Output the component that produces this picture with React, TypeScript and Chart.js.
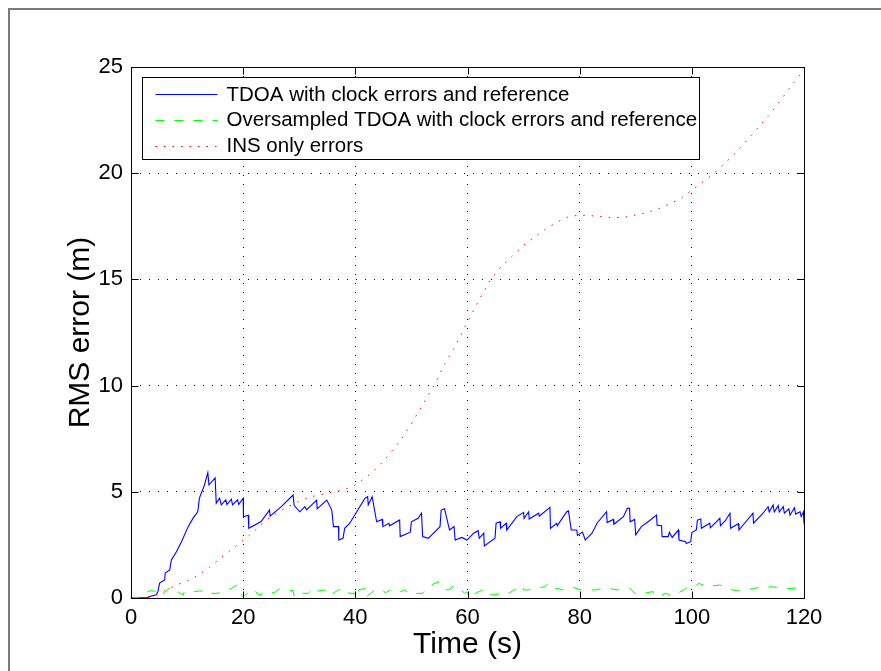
import React, { useEffect, useRef } from 'react';
import { Chart, registerables } from 'chart.js';

Chart.register(...registerables);

const xTicks = [0, 20, 40, 60, 80, 100, 120];
const yTicks = [0, 5, 10, 15, 20, 25];
const xTitle = 'Time (s)';
const yTitle = 'RMS error (m)';
const seriesLabels = [
  'TDOA with clock errors and reference',
  'Oversampled TDOA with clock errors and reference',
  'INS only errors',
];

// TDOA with clock errors and reference (blue, solid)
const blueT = [
  0, 3.0, 3.5, 4.5, 4.8, 5.1, 6.0, 6.1, 6.9, 7.2, 8.1, 9.0, 10.2, 11.1, 11.9, 12.2, 13.1, 13.7, 13.9, 15.0,
  15.2, 15.8, 16.1, 16.9, 17.1, 17.9, 18.1, 19.0, 19.2, 20.0, 20.05, 20.9, 21.0, 23.2, 24.7, 24.8, 26.8, 28.9, 29.1, 30.1,
  31.0, 31.3, 32.5, 33.1, 33.2, 34.9, 35.8, 36.1, 37.0, 37.05, 37.8, 38.1, 39.0, 41.7, 42.2, 42.3, 43.0, 43.8, 43.9, 44.8,
  44.9, 46.0, 46.1, 47.9, 48.0, 49.8, 50.0, 51.2, 51.8, 52.0, 53.0, 55.1, 55.3, 55.9, 56.8, 57.6, 57.8, 59.0, 59.9, 61.1,
  61.9, 62.1, 62.9, 63.0, 64.9, 65.1, 65.8, 65.9, 66.9, 67.0, 68.8, 70.0, 70.1, 70.9, 71.0, 72.7, 72.8, 74.7, 74.8, 75.9,
  76.0, 77.7, 78.0, 78.5, 79.5, 79.6, 80.5, 81.0, 82.2, 83.1, 84.8, 84.9, 86.0, 86.1, 87.8, 88.5, 88.9, 89.0, 89.8, 90.0,
  91.0, 92.2, 93.7, 93.8, 94.6, 94.7, 95.8, 96.0, 96.5, 97.6, 97.7, 98.9, 99.0, 99.8, 100.0, 100.8, 101.0, 101.6, 101.7, 103.2,
  103.3, 105.0, 105.1, 106.0, 106.8, 106.9, 108.3, 108.4, 110.9, 111.0, 112.7, 113.6, 113.8, 114.5, 114.7, 115.4, 115.6, 116.3, 116.5, 117.3,
  117.5, 118.3, 118.5, 119.3, 119.5, 119.9, 120.0,
];
const blueV = [
  0, 0.02, 0.08, 0.15, 0.3, 0.7, 0.85, 1.18, 1.32, 1.79, 2.18, 2.65, 3.36, 3.77, 4.06, 4.7, 5.32, 5.9, 5.32, 5.65,
  4.46, 4.7, 4.38, 4.62, 4.4, 4.65, 4.38, 4.62, 4.4, 4.7, 3.83, 3.9, 3.28, 3.6, 4.14, 3.85, 4.3, 4.85, 4.35, 4.06,
  4.3, 4.15, 4.46, 4.61, 4.2, 4.61, 4.14, 3.36, 3.36, 2.73, 2.81, 3.28, 3.52, 4.69, 4.77, 4.38, 4.77, 3.59, 3.6, 3.7,
  3.36, 3.52, 3.4, 3.67, 2.89, 3.1, 3.59, 3.75, 3.99, 2.89, 2.81, 3.36, 4.14, 4.2, 3.2, 3.36, 2.73, 2.85, 2.73, 3.05,
  3.17, 2.81, 3.05, 2.45, 2.81, 3.52, 3.59, 3.28, 3.52, 3.2, 3.83, 4.03, 3.75, 4.06, 3.72, 3.99, 3.85, 4.27, 3.28, 3.52,
  3.4, 4.06, 4.1, 3.2, 3.2, 2.95, 3.1, 2.73, 3.05, 3.52, 4.06, 3.55, 3.7, 3.47, 3.83, 4.22, 4.22, 3.59, 3.7, 2.97,
  3.36, 3.59, 3.9, 3.43, 3.4, 2.89, 2.89, 3.1, 2.85, 3.2, 2.73, 2.65, 2.57, 2.65, 3.08, 3.2, 3.67, 3.72, 3.28, 3.52,
  3.3, 3.75, 3.4, 3.65, 3.99, 3.28, 3.5, 3.2, 3.99, 3.52, 3.99, 4.3, 4.05, 4.38, 4.05, 4.35, 4.05, 4.3, 4.0, 4.2,
  3.9, 4.25, 3.95, 4.06, 3.83, 4.06, 3.5,
];

// Oversampled TDOA with clock errors and reference (green, dashed)
const greenT = [
  0, 2.4, 3.0, 3.5, 4.8, 5.0, 6.0, 6.6, 7.5, 8.0, 9.3, 9.5, 11.3, 12.2, 14.3, 14.5, 16.0, 17.9, 18.8, 19.0,
  20.0, 21.7, 22.0, 22.8, 23.5, 24.4, 25.5, 26.5, 27.5, 28.9, 29.1, 29.2, 31.6, 32.5, 32.7, 34.6, 34.9, 36.0, 37.0, 38.7,
  38.9, 39.9, 40.1, 40.6, 41.7, 41.8, 43.5, 44.1, 45.0, 45.3, 47.0, 47.8, 48.1, 48.7, 50.3, 51.0, 52.0, 53.0, 54.8, 55.5,
  56.0, 56.9, 57.2, 58.1, 59.5, 59.9, 60.2, 62.0, 62.9, 63.2, 64.6, 66.1, 66.8, 68.8, 69.7, 70.0, 70.9, 71.8, 73.8, 74.4,
  75.0, 76.0, 77.1, 78.0, 78.6, 80.1, 82.8, 84.0, 85.1, 86.9, 88.1, 89.0, 89.8, 91.3, 93.1, 93.4, 94.5, 95.4, 96.0, 96.7,
  98.5, 99.4, 100.0, 100.5, 101.2, 102.1, 103.0, 105.0, 105.5, 106.0, 108.0, 109.5, 111.2, 112.4, 114.2, 115.1, 116.0, 117.8, 119.8, 120.0,
];
const greenV = [
  0, 0.05, 0.3, 0.35, 0.3, 0.13, 0.25, 0.42, 0.49, 0.35, 0.14, 0.3, 0.3, 0.33, 0.33, 0.2, 0.25, 0.45, 0.61, 0.4,
  0.06, 0.42, 0.35, 0.14, 0.2, 0.3, 0.25, 0.42, 0.35, 0.35, 0.1, 0.22, 0.22, 0.45, 0.3, 0.38, 0.14, 0.22, 0.38, 0.38,
  0.22, 0.22, 0.0, 0.38, 0.45, 0.02, 0.38, 0.45, 0.35, 0.25, 0.45, 0.38, 0.3, 0.38, 0.14, 0.22, 0.22, 0.53, 0.77, 0.45,
  0.38, 0.4, 0.53, 0.53, 0.22, 0.3, 0.05, 0.3, 0.38, 0.22, 0.14, 0.22, 0.14, 0.45, 0.61, 0.38, 0.38, 0.45, 0.53, 0.69,
  0.45, 0.45, 0.38, 0.45, 0.53, 0.38, 0.38, 0.45, 0.45, 0.38, 0.45, 0.45, 0.22, 0.22, 0.3, 0.1, 0.14, 0.22, 0.14, 0.1,
  0.38, 0.53, 0.45, 0.53, 0.69, 0.61, 0.55, 0.61, 0.55, 0.45, 0.34, 0.38, 0.45, 0.53, 0.53, 0.5, 0.45, 0.45, 0.5, 0.5,
];

// INS only errors (red, dotted)
const redT = [
  0, 2, 4, 6, 8, 10, 12, 14, 16, 18, 20, 22, 24, 26, 28, 30, 32, 34, 36, 38, 40, 42, 44, 46, 48, 50, 52, 54, 56, 58,
  60, 62, 64, 66, 68, 70, 72, 74, 76, 78, 80, 82, 84, 86, 88, 90, 92, 94, 96, 98, 100, 102, 104, 106, 108, 110, 112, 114, 116, 118, 120,
];
const redV = [
  0, 0.02, 0.1, 0.35, 0.6, 0.8, 1.07, 1.45, 1.88, 2.3, 2.72, 3.15, 3.65, 4.0, 4.3, 4.55, 4.76, 4.88, 4.98, 5.1,
  5.32, 5.7, 6.15, 6.75, 7.4, 8.2, 9.1, 10.0, 11.05, 11.95, 13.0, 14.0, 14.95, 15.6, 16.1, 16.6, 17.0, 17.38, 17.7, 17.95,
  18.03, 18.0, 17.95, 17.9, 17.93, 18.03, 18.15, 18.32, 18.55, 18.8, 19.2, 19.6, 20.0, 20.5, 21.0, 21.6, 22.2, 22.8, 23.5, 24.2, 24.85,
];

const FONT = '"Liberation Sans", Arial, Helvetica, sans-serif';
const colors = ['#0000ff', '#00ff00', '#ff0000'];
const dashes = [[], [9, 10], [1.5, 7]];

const toPoints = (ts: number[], vs: number[]) => ts.map((t, i) => ({ x: t, y: vs[i] }));

const boxPlugin = {
  id: 'matlabBox',
  afterDatasetsDraw(chart: any) {
    const { ctx, chartArea: a, scales } = chart;
    ctx.save();
    ctx.strokeStyle = '#000';
    ctx.lineWidth = 1;
    const L = Math.round(a.left) + 0.5;
    const R = Math.round(a.right) + 0.5;
    const T = Math.round(a.top) + 0.5;
    const B = Math.round(a.bottom) + 0.5;
    ctx.beginPath();
    ctx.rect(L, T, R - L, B - T);
    const tl = 7;
    xTicks.forEach((v) => {
      const x = Math.round(scales.x.getPixelForValue(v)) + 0.5;
      ctx.moveTo(x, B);
      ctx.lineTo(x, B - tl);
      ctx.moveTo(x, T);
      ctx.lineTo(x, T + tl);
    });
    yTicks.forEach((v) => {
      const y = Math.round(scales.y.getPixelForValue(v)) + 0.5;
      ctx.moveTo(L, y);
      ctx.lineTo(L + tl, y);
      ctx.moveTo(R, y);
      ctx.lineTo(R - tl, y);
    });
    ctx.stroke();
    ctx.restore();
  },
};

const legendPlugin = {
  id: 'matlabLegend',
  afterDraw(chart: any) {
    const { ctx, chartArea: a } = chart;
    const bx = Math.round(a.left) + 11.5;
    const by = Math.round(a.top) + 10.5;
    const bw = 557;
    const bh = 82;
    ctx.save();
    ctx.fillStyle = '#fff';
    ctx.fillRect(bx, by, bw, bh);
    ctx.strokeStyle = '#000';
    ctx.lineWidth = 1;
    ctx.strokeRect(bx, by, bw, bh);
    ctx.font = `20.5px ${FONT}`;
    ctx.textBaseline = 'middle';
    ctx.textAlign = 'left';
    seriesLabels.forEach((label, i) => {
      const y = by + 16.5 + i * 25.8;
      ctx.save();
      ctx.strokeStyle = colors[i];
      ctx.lineWidth = 1;
      ctx.setLineDash(dashes[i]);
      ctx.beginPath();
      ctx.moveTo(bx + 13, Math.round(y) + 0.5);
      ctx.lineTo(bx + 75, Math.round(y) + 0.5);
      ctx.stroke();
      ctx.restore();
      ctx.fillStyle = '#000';
      ctx.fillText(label, bx + 84, y + 1);
    });
    ctx.restore();
  },
};

export default function App() {
  const ref = useRef<HTMLCanvasElement | null>(null);

  useEffect(() => {
    if (!ref.current) return;
    const tickFont = { family: FONT, size: 22 };
    const titleFont = { family: FONT, size: 30 };
    const chart = new Chart(ref.current, {
      type: 'line',
      data: {
        datasets: [
          {
            label: seriesLabels[0],
            data: toPoints(blueT, blueV),
            borderColor: colors[0],
            borderWidth: 1.1,
            pointRadius: 0,
            tension: 0,
            order: 3,
          },
          {
            label: seriesLabels[1],
            data: toPoints(greenT, greenV),
            borderColor: colors[1],
            borderWidth: 1,
            borderDash: dashes[1],
            pointRadius: 0,
            tension: 0,
            order: 2,
          },
          {
            label: seriesLabels[2],
            data: toPoints(redT, redV),
            borderColor: colors[2],
            borderWidth: 1,
            borderDash: dashes[2],
            pointRadius: 0,
            tension: 0,
            order: 1,
          },
        ],
      },
      options: {
        animation: false,
        responsive: false,
        devicePixelRatio: 1,
        layout: { padding: { top: 67, right: 77, left: 0, bottom: 0 } },
        plugins: { legend: { display: false }, tooltip: { enabled: false } },
        scales: {
          x: {
            type: 'linear',
            min: 0,
            max: 120,
            afterBuildTicks: (s: any) => {
              s.ticks = xTicks.map((v) => ({ value: v }));
            },
            afterFit: (s: any) => {
              s.height = 73;
            },
            ticks: { font: tickFont, color: '#000', padding: 7, maxRotation: 0, autoSkip: false },
            grid: { color: '#000', lineWidth: 1, drawTicks: false },
            border: { display: false, dash: [1, 8] },
            title: { display: true, text: xTitle, font: titleFont, color: '#000', padding: { top: 0, bottom: 8 } },
          },
          y: {
            type: 'linear',
            min: 0,
            max: 25,
            afterBuildTicks: (s: any) => {
              s.ticks = yTicks.map((v) => ({ value: v }));
            },
            afterFit: (s: any) => {
              s.width = 131;
            },
            ticks: { font: tickFont, color: '#000', padding: 8, autoSkip: false },
            grid: { color: '#000', lineWidth: 1, drawTicks: false },
            border: { display: false, dash: [1, 8] },
            title: { display: true, text: yTitle, font: titleFont, color: '#000', padding: { top: 63, bottom: 0 } },
          },
        },
      },
      plugins: [boxPlugin, legendPlugin],
    } as any);
    return () => chart.destroy();
  }, []);

  return (
    <div
      style={{
        position: 'absolute',
        left: 0,
        top: 0,
        width: 881,
        height: 671,
        overflow: 'hidden',
        background: '#fff',
      }}
    >
      <div
        style={{
          position: 'absolute',
          left: 8,
          top: 8,
          width: 900,
          height: 700,
          borderLeft: '2px solid #7a7a7a',
          borderTop: '2px solid #7a7a7a',
        }}
      />
      <canvas ref={ref} width={881} height={671} style={{ position: 'absolute', left: 0, top: 0 }} />
    </div>
  );
}
